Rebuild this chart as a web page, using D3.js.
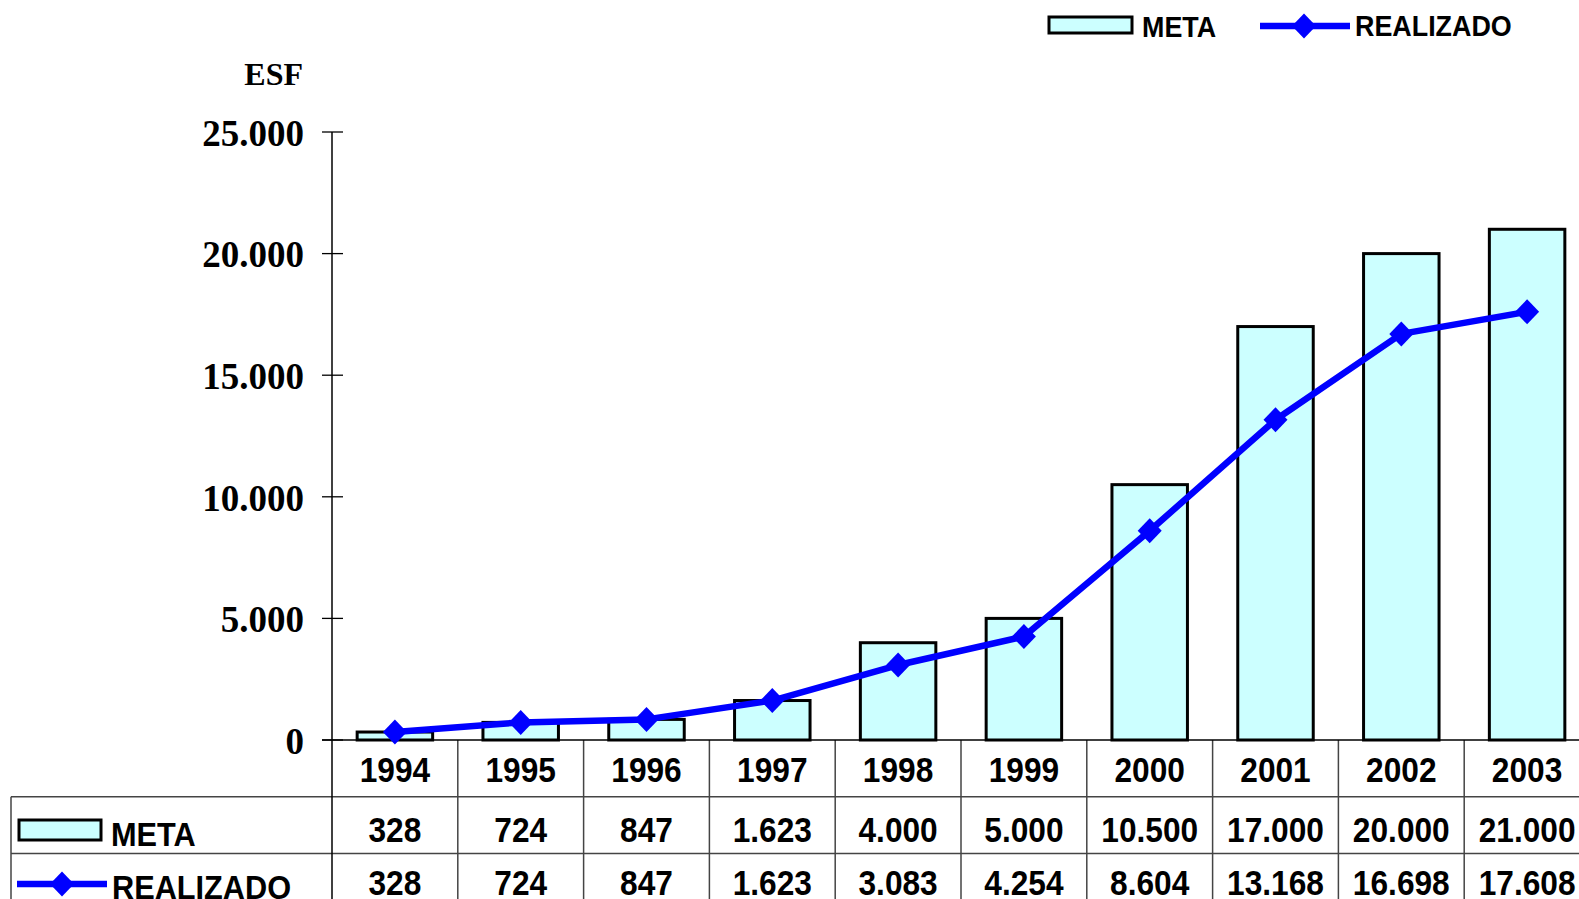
<!DOCTYPE html>
<html>
<head>
<meta charset="utf-8">
<script src="https://cdn.jsdelivr.net/npm/d3@7"></script>
<style>
  html, body { margin: 0; padding: 0; background: #fff; overflow: hidden; }
  svg { display: block; }
</style>
</head>
<body>
<svg id="chart" width="1579" height="899"></svg>
<script>
// Equipes de Saúde da Família: meta x realizado
const years = ["1994", "1995", "1996", "1997", "1998", "1999", "2000", "2001", "2002", "2003"];
const meta = [328, 724, 847, 1623, 4000, 5000, 10500, 17000, 20000, 21000];
const realizado = [328, 724, 847, 1623, 3083, 4254, 8604, 13168, 16698, 17608];
const yTicks = [0, 5000, 10000, 15000, 20000, 25000];
const seriesNames = ["META", "REALIZADO"];
const yTitle = "ESF";

const ptBR = d3.formatLocale({ decimal: ",", thousands: ".", grouping: [3], currency: ["R$", ""] });
const fmt = ptBR.format(",d");

const svg = d3.select("#chart");

const x0 = 332, catW = 125.8;
const x = d3.scaleBand().domain(years).range([x0, x0 + catW * years.length]).paddingInner(0.4).paddingOuter(0.2);
const xc = d => x(d) + x.bandwidth() / 2;
const y = d3.scaleLinear().domain([0, 25000]).range([740, 132]);

const barFill = "#CCFFFF", lineColor = "#0000FF";
const sans = "'Liberation Sans', Arial, sans-serif";
const serif = "'Liberation Serif', 'Times New Roman', serif";

// diamond marker
const diamond = (g, cx, cy) => g.append("path")
  .attr("d", `M${cx},${cy - 12.5} L${cx + 12},${cy} L${cx},${cy + 12.5} L${cx - 12},${cy} Z`)
  .attr("fill", lineColor);

// bold text, slightly condensed and stretched vertically
const tallText = (g, tx, ty, str, size, anchor) => g.append("text")
  .attr("transform", `translate(${tx},${ty}) scale(0.96,1.06)`)
  .attr("text-anchor", anchor || "start")
  .attr("font-family", sans).attr("font-weight", "bold").attr("font-size", size)
  .attr("fill", "#000").text(str);

// y axis (ticks cross the axis line)
const yAxis = svg.append("g").attr("transform", `translate(${x0},0)`)
  .call(d3.axisLeft(y).tickValues(yTicks).tickSize(0).tickPadding(28).tickFormat(fmt));
yAxis.select(".domain").remove();
yAxis.selectAll("text")
  .attr("font-family", serif).attr("font-weight", "bold").attr("font-size", 37)
  .attr("fill", "#000").attr("dy", "0.36em");
svg.append("g").selectAll("line").data(yTicks).join("line")
  .attr("x1", x0 - 10).attr("x2", x0 + 11)
  .attr("y1", d => y(d)).attr("y2", d => y(d))
  .attr("stroke", "#000").attr("stroke-width", 1.3);

svg.append("text").attr("x", 303).attr("y", 85).attr("text-anchor", "end")
  .attr("font-family", serif).attr("font-weight", "bold").attr("font-size", 32)
  .text(yTitle);

// table grid below the plot
const rowH = 56.7;
const tTop = 740;
const tRight = x0 + catW * years.length;
const grid = svg.append("g").attr("stroke", "#444").attr("stroke-width", 1.5).attr("fill", "none");
grid.append("line").attr("x1", 11).attr("x2", tRight).attr("y1", tTop + rowH).attr("y2", tTop + rowH);
grid.append("line").attr("x1", 11).attr("x2", tRight).attr("y1", tTop + 2 * rowH).attr("y2", tTop + 2 * rowH);
grid.append("line").attr("x1", 11).attr("x2", 11).attr("y1", tTop + rowH).attr("y2", 899);
grid.selectAll("line.v").data(years.slice(1).concat(["end"])).join("line").attr("class", "v")
  .attr("x1", (d, i) => x0 + catW * (i + 1)).attr("x2", (d, i) => x0 + catW * (i + 1))
  .attr("y1", tTop).attr("y2", 899);
// y axis line, running down through the table
svg.append("line").attr("x1", x0).attr("x2", x0).attr("y1", 132).attr("y2", 899)
  .attr("stroke", "#000").attr("stroke-width", 1.5);
// x axis line
svg.append("line").attr("x1", x0 - 10).attr("x2", tRight).attr("y1", 740).attr("y2", 740)
  .attr("stroke", "#000").attr("stroke-width", 1.5);

// bars
svg.append("g").selectAll("rect").data(years).join("rect")
  .attr("x", d => x(d)).attr("width", x.bandwidth())
  .attr("y", (d, i) => y(meta[i])).attr("height", (d, i) => y(0) - y(meta[i]))
  .attr("fill", barFill).attr("stroke", "#000").attr("stroke-width", 3);

// realizado line with markers
const line = d3.line().x((d, i) => xc(years[i])).y(d => y(d));
svg.append("path").datum(realizado).attr("d", line)
  .attr("fill", "none").attr("stroke", lineColor).attr("stroke-width", 6.5).attr("stroke-linejoin", "round");
const mk = svg.append("g");
realizado.forEach((v, i) => diamond(mk, xc(years[i]), y(v)));

// table text
const cell = svg.append("g");
years.forEach((d, i) => {
  tallText(cell, xc(d), 782, d, 33, "middle");
  tallText(cell, xc(d), 842, fmt(meta[i]), 33, "middle");
  tallText(cell, xc(d), 895, fmt(realizado[i]), 33, "middle");
});

// row labels with keys
svg.append("rect").attr("x", 19).attr("y", 820).attr("width", 82).attr("height", 20)
  .attr("fill", barFill).attr("stroke", "#000").attr("stroke-width", 3);
tallText(svg, 111, 846, seriesNames[0], 32);
svg.append("line").attr("x1", 17).attr("x2", 107).attr("y1", 884).attr("y2", 884)
  .attr("stroke", lineColor).attr("stroke-width", 6.5);
diamond(svg, 62, 884);
tallText(svg, 112, 899, seriesNames[1], 32);

// legend at the top
svg.append("rect").attr("x", 1049).attr("y", 17).attr("width", 83).attr("height", 16)
  .attr("fill", barFill).attr("stroke", "#000").attr("stroke-width", 3);
tallText(svg, 1142, 37, seriesNames[0], 28);
svg.append("line").attr("x1", 1260).attr("x2", 1350).attr("y1", 26).attr("y2", 26)
  .attr("stroke", lineColor).attr("stroke-width", 6.5);
diamond(svg, 1304, 26);
tallText(svg, 1355, 36, seriesNames[1], 28);
</script>
</body>
</html>
